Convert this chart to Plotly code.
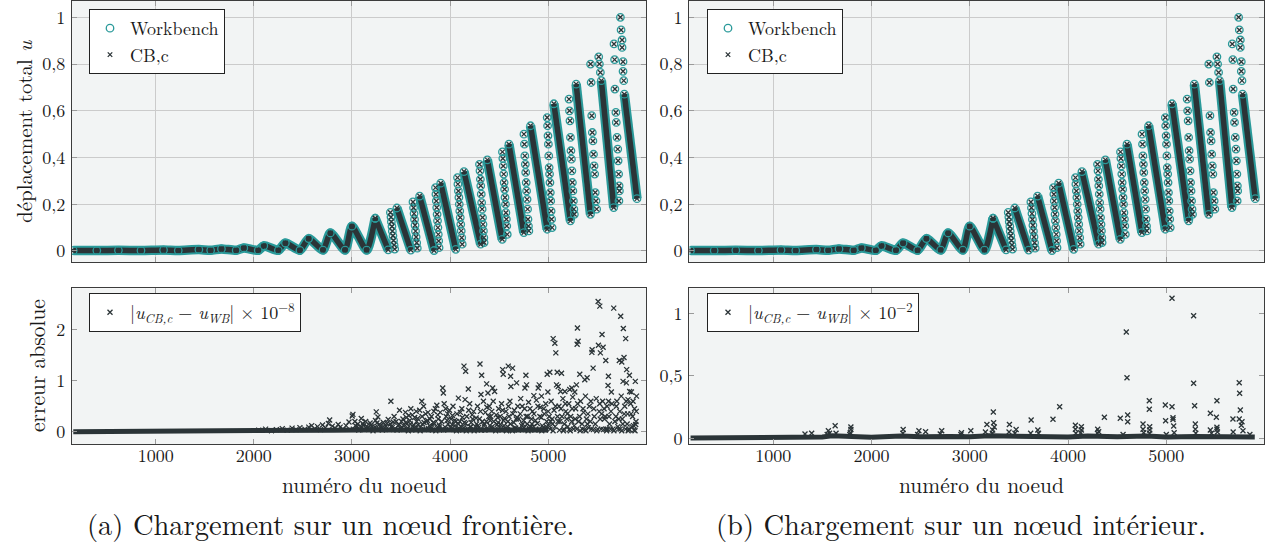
import plotly.graph_objects as go

# ------------------------------------------------------------------
# Axis ticks / labels
# ------------------------------------------------------------------
x_tick_vals = [1000, 2000, 3000, 4000, 5000]
x_tick_text = ["1000", "2000", "3000", "4000", "5000"]
u_tick_vals = [0, 0.2, 0.4, 0.6, 0.8, 1]
u_tick_text = ["0", "0,2", "0,4", "0,6", "0,8", "1"]
err_a_tick_vals = [0, 1, 2]
err_a_tick_text = ["0", "1", "2"]
err_b_tick_vals = [0, 0.5, 1]
err_b_tick_text = ["0", "0,5", "1"]

# ------------------------------------------------------------------
# Top panels: déplacement total u (node, value)
# ------------------------------------------------------------------
band_points = [(160, 0.002), (400, 0.002), (620, 0.003), (850, 0.002), (1080, 0.004),
               (1230, 0.002), (1440, 0.006), (1560, 0.003), (1670, 0.009), (1820, 0.003),
               (1898, 0.013), (2045, 0.003), (2102, 0.022), (2250, 0.003), (2322, 0.034),
               (2470, 0.003), (2559, 0.053), (2705, 0.004), (2780, 0.077), (2930, 0.004),
               (3000, 0.106), (3150, 0.004), (3237, 0.14)]
stroke_start_points = [(3237, 0.14), (3458, 0.184), (3690, 0.235), (3905, 0.29), (4142, 0.34),
                       (4380, 0.39), (4600, 0.457), (4820, 0.536), (5058, 0.63), (5285, 0.714),
                       (5542, 0.729), (5776, 0.671)]
stroke_end_points = [(3370, 0.005), (3600, 0.004), (3837, 0.002), (4058, 0.007), (4312, 0.029),
                     (4532, 0.05), (4752, 0.079), (4990, 0.093), (5227, 0.129), (5431, 0.157),
                     (5668, 0.186), (5905, 0.224)]
sparse_points = [
    (3392, 0.165), (3398, 0.145), (3402, 0.125), (3408, 0.105), (3412, 0.085), (3418, 0.065),
    (3424, 0.045), (3430, 0.025), (3436, 0.008),
    (3622, 0.21), (3628, 0.185), (3633, 0.16), (3638, 0.135), (3643, 0.11), (3648, 0.085),
    (3654, 0.06), (3660, 0.035), (3666, 0.012),
    (3852, 0.271), (3856, 0.243), (3860, 0.214), (3864, 0.186), (3868, 0.157), (3872, 0.129),
    (3876, 0.1), (3880, 0.071), (3884, 0.043), (3888, 0.014),
    (4076, 0.314), (4080, 0.286), (4085, 0.257), (4090, 0.229), (4094, 0.2), (4099, 0.171),
    (4104, 0.143), (4109, 0.114), (4114, 0.086), (4119, 0.057), (4124, 0.029),
    (4300, 0.371), (4305, 0.343), (4309, 0.307), (4313, 0.279), (4318, 0.243), (4322, 0.207),
    (4327, 0.179), (4331, 0.143), (4336, 0.114), (4340, 0.086), (4344, 0.057), (4347, 0.036),
    (4534, 0.424), (4538, 0.396), (4542, 0.364), (4547, 0.329), (4551, 0.293), (4556, 0.264),
    (4560, 0.229), (4565, 0.2), (4569, 0.164), (4574, 0.136), (4578, 0.107), (4583, 0.071),
    (4753, 0.5), (4758, 0.457), (4762, 0.407), (4767, 0.371), (4771, 0.336), (4776, 0.293),
    (4780, 0.257), (4785, 0.221), (4790, 0.179), (4794, 0.136), (4799, 0.107), (4803, 0.086),
    (4990, 0.571), (4994, 0.536), (4998, 0.493), (5002, 0.457), (5006, 0.407), (5010, 0.357),
    (5014, 0.329), (5018, 0.293), (5022, 0.25), (5026, 0.214), (5030, 0.171), (5035, 0.136),
    (5040, 0.1),
    (5212, 0.65), (5217, 0.6), (5222, 0.557), (5227, 0.486), (5232, 0.429), (5237, 0.393),
    (5242, 0.343), (5247, 0.293), (5252, 0.257), (5257, 0.214), (5262, 0.179), (5267, 0.157),
    (5432, 0.8), (5438, 0.721), (5444, 0.579), (5450, 0.507), (5456, 0.471), (5462, 0.414),
    (5468, 0.364), (5474, 0.329), (5480, 0.25), (5487, 0.214), (5494, 0.179),
    (5515, 0.831), (5522, 0.8), (5532, 0.764),
    (5671, 0.886), (5677, 0.819), (5680, 0.693), (5690, 0.593), (5694, 0.55), (5702, 0.486),
    (5709, 0.436), (5713, 0.386), (5718, 0.329), (5723, 0.279), (5726, 0.257), (5721, 0.214),
    (5736, 1.0), (5743, 0.946), (5753, 0.903), (5753, 0.871), (5763, 0.81), (5763, 0.769),
    (5770, 0.729)]

# ------------------------------------------------------------------
# Bottom-left: erreur absolue (x 1e-8), node / value
# ------------------------------------------------------------------
err_a_base = [(160, 0.0), (1000, 0.002), (1900, 0.006), (2200, 0.012), (2500, 0.02),
              (2800, 0.03), (3100, 0.035), (3500, 0.04), (4000, 0.04), (4500, 0.04), (5000, 0.035)]
err_a_points = [
    (2050, 0.03), (2120, 0.05), (2180, 0.02), (2230, 0.04), (2290, 0.06), (2340, 0.03),
    (2390, 0.07), (2430, 0.04), (2470, 0.08), (2520, 0.05), (2560, 0.09), (2590, 0.12),
    (2620, 0.06), (2650, 0.1), (2680, 0.04), (2700, 0.13), (2730, 0.08), (2760, 0.16),
    (2773, 0.23), (2800, 0.11), (2830, 0.07), (2860, 0.14), (2880, 0.09), (2910, 0.05),
    (2940, 0.12), (2970, 0.19), (3003, 0.31), (3010, 0.34), (3030, 0.2), (3050, 0.1),
    (3095, 0.26), (3248, 0.39), (3265, 0.29), (3397, 0.6), (3485, 0.42),
    (3060, 0.15), (3080, 0.06), (3120, 0.12), (3140, 0.2), (3160, 0.08), (3185, 0.17),
    (3205, 0.1), (3225, 0.05), (3240, 0.22), (3280, 0.14), (3300, 0.07), (3320, 0.18),
    (3345, 0.11), (3370, 0.24), (3390, 0.15), (3410, 0.08), (3430, 0.3), (3450, 0.2),
    (3470, 0.12), (3500, 0.06),
    (3520, 0.25), (3545, 0.38), (3560, 0.15), (3580, 0.32), (3600, 0.45), (3620, 0.1),
    (3640, 0.28), (3660, 0.2), (3690, 0.42), (3712, 0.6), (3730, 0.5), (3750, 0.35),
    (3770, 0.22), (3790, 0.12), (3810, 0.3), (3830, 0.18), (3850, 0.45), (3865, 0.52),
    (3880, 0.25), (3900, 0.38), (3925, 0.86), (3932, 0.76), (3940, 0.55), (3960, 0.3),
    (3980, 0.15), (3995, 0.42),
    (4085, 0.66), (4142, 1.29), (4153, 0.63), (4159, 1.19), (4186, 0.84), (4305, 1.33),
    (4322, 1.11), (4315, 0.73), (4373, 0.94), (4386, 0.76), (4434, 0.86), (4454, 0.79),
    (4010, 0.25), (4030, 0.5), (4050, 0.12), (4070, 0.35), (4100, 0.2), (4120, 0.45),
    (4140, 0.08), (4170, 0.3), (4200, 0.55), (4215, 0.18), (4240, 0.4), (4260, 0.1),
    (4280, 0.5), (4300, 0.25), (4340, 0.6), (4350, 0.15), (4360, 0.38), (4400, 0.5),
    (4410, 0.22), (4420, 0.08), (4440, 0.6), (4470, 0.33), (4480, 0.14), (4495, 0.45),
    (4536, 1.22), (4542, 1.13), (4593, 1.29), (4617, 1.09), (4637, 1.25), (4620, 0.89),
    (4678, 0.96), (4773, 1.11), (4763, 0.86), (4780, 0.92), (4854, 0.71), (4898, 0.86),
    (4909, 0.92), (4932, 0.7), (4990, 1.13), (4997, 0.78),
    (4510, 0.3), (4525, 0.55), (4550, 0.12), (4570, 0.4), (4590, 0.2), (4610, 0.6),
    (4640, 0.35), (4660, 0.08), (4690, 0.5), (4700, 0.25), (4720, 0.65), (4740, 0.15),
    (4760, 0.45), (4790, 0.3), (4800, 0.58), (4820, 0.1), (4840, 0.4), (4870, 0.22),
    (4880, 0.62), (4920, 0.48), (4940, 0.12), (4960, 0.35), (4975, 0.55),
    (5017, 1.17), (5051, 1.83), (5068, 1.74), (5078, 1.55), (5085, 0.92), (5092, 1.17),
    (5102, 0.89), (5126, 0.79), (5136, 1.15), (5170, 0.79), (5220, 0.83), (5241, 0.86),
    (5271, 0.78), (5288, 0.92), (5295, 1.72), (5298, 2.04), (5305, 1.78), (5322, 1.13),
    (5373, 1.02), (5397, 1.06), (5445, 1.56), (5448, 1.61), (5458, 1.25), (5509, 2.56),
    (5010, 0.3), (5030, 0.6), (5045, 0.15), (5060, 0.42), (5110, 0.5), (5120, 0.2),
    (5150, 0.65), (5160, 0.05), (5180, 0.4), (5200, 0.1), (5210, 0.55), (5230, 0.3),
    (5250, 0.68), (5260, 0.05), (5280, 0.45), (5310, 0.2), (5330, 0.6), (5350, 0.05),
    (5360, 0.38), (5380, 0.7), (5400, 0.15), (5420, 0.5), (5440, 0.05), (5470, 0.3),
    (5490, 0.65),
    (5512, 1.7), (5526, 2.47), (5532, 1.55), (5549, 1.91), (5560, 1.66), (5587, 1.4),
    (5610, 0.91), (5614, 1.09), (5644, 0.78), (5668, 2.43), (5725, 1.4), (5739, 2.27),
    (5750, 1.37), (5763, 0.99), (5766, 2.03), (5773, 1.46), (5790, 1.83), (5797, 0.96),
    (5800, 1.22), (5814, 0.63), (5828, 1.11), (5831, 0.79), (5848, 0.78), (5888, 0.99),
    (5520, 0.4), (5540, 0.05), (5555, 0.6), (5575, 0.25), (5590, 0.05), (5600, 0.5),
    (5620, 0.3), (5635, 0.05), (5650, 0.55), (5680, 0.2), (5700, 0.6), (5715, 0.05),
    (5730, 0.4), (5745, 0.7), (5760, 0.15), (5780, 0.5), (5810, 0.35), (5820, 0.05),
    (5840, 0.55), (5860, 0.3), (5870, 0.12), (5880, 0.45), (5895, 0.2), (5900, 0.7)]
err_a_low_points = [
    (3015, 0.05), (3035, 0.12), (3070, 0.03), (3090, 0.09), (3110, 0.16), (3130, 0.04),
    (3150, 0.11), (3175, 0.06), (3195, 0.13), (3215, 0.02), (3235, 0.09), (3255, 0.17),
    (3275, 0.05), (3295, 0.12), (3310, 0.03), (3335, 0.08), (3355, 0.16), (3380, 0.04),
    (3400, 0.1), (3420, 0.19), (3440, 0.06), (3460, 0.03), (3480, 0.14), (3510, 0.09),
    (3530, 0.04), (3550, 0.18), (3570, 0.07), (3590, 0.22), (3610, 0.03), (3630, 0.13),
    (3650, 0.06), (3670, 0.26), (3700, 0.09), (3720, 0.15), (3740, 0.04), (3760, 0.2),
    (3780, 0.06), (3800, 0.1), (3820, 0.03), (3840, 0.16), (3870, 0.07), (3890, 0.13),
    (3910, 0.04), (3950, 0.09), (3970, 0.22), (3990, 0.05), (4020, 0.14), (4040, 0.04),
    (4060, 0.2), (4090, 0.07), (4110, 0.1), (4130, 0.03), (4160, 0.16), (4180, 0.06),
    (4210, 0.09), (4230, 0.25), (4250, 0.04), (4270, 0.15), (4290, 0.08), (4320, 0.03),
    (4345, 0.12), (4370, 0.2), (4390, 0.05), (4415, 0.3), (4430, 0.1), (4460, 0.05),
    (4490, 0.18), (4505, 0.08), (4530, 0.03), (4545, 0.22), (4565, 0.06), (4585, 0.1),
    (4600, 0.3), (4625, 0.04), (4650, 0.18), (4670, 0.07), (4685, 0.28), (4710, 0.05),
    (4730, 0.12), (4750, 0.22), (4770, 0.04), (4785, 0.15), (4810, 0.06), (4830, 0.25),
    (4850, 0.1), (4865, 0.03), (4890, 0.16), (4910, 0.05), (4930, 0.28), (4950, 0.08),
    (4970, 0.03), (4985, 0.2), (5005, 0.12), (5020, 0.05), (5040, 0.25), (5070, 0.1),
    (5100, 0.2), (5115, 0.03), (5140, 0.3), (5165, 0.15), (5190, 0.25), (5215, 0.04),
    (5240, 0.2), (5265, 0.12), (5290, 0.05), (5320, 0.3), (5345, 0.15), (5370, 0.04),
    (5390, 0.25), (5410, 0.08), (5430, 0.2), (5460, 0.04), (5480, 0.15), (5505, 0.05),
    (5530, 0.25), (5565, 0.04), (5580, 0.3), (5605, 0.05), (5625, 0.15), (5660, 0.05),
    (5690, 0.3), (5710, 0.1), (5735, 0.05), (5755, 0.25), (5790, 0.05), (5805, 0.15),
    (5830, 0.04), (5855, 0.1), (5875, 0.03), (5892, 0.14),
    (3505, 0.2), (3525, 0.12), (3555, 0.28), (3575, 0.02), (3595, 0.15), (3615, 0.33),
    (3635, 0.08), (3655, 0.4), (3675, 0.13), (3695, 0.02), (3715, 0.3), (3735, 0.18),
    (3755, 0.05), (3775, 0.38), (3795, 0.25), (3815, 0.08), (3835, 0.4), (3855, 0.02),
    (3875, 0.33), (3895, 0.1), (3915, 0.2), (3935, 0.03), (3955, 0.45), (3975, 0.35),
    (4005, 0.08), (4025, 0.32), (4045, 0.22), (4065, 0.02), (4085, 0.15), (4105, 0.38),
    (4125, 0.28), (4145, 0.18), (4165, 0.02), (4190, 0.42), (4205, 0.1), (4225, 0.33),
    (4245, 0.02), (4265, 0.27), (4285, 0.12), (4310, 0.4), (4330, 0.2), (4355, 0.03),
    (4375, 0.48), (4395, 0.3), (4405, 0.12), (4425, 0.4), (4445, 0.2), (4465, 0.02),
    (4485, 0.28), (4515, 0.14), (4535, 0.42), (4555, 0.26), (4575, 0.02), (4595, 0.5),
    (4615, 0.15), (4635, 0.02), (4655, 0.42), (4675, 0.25), (4695, 0.03), (4715, 0.35),
    (4735, 0.5), (4755, 0.08), (4775, 0.3), (4795, 0.02), (4815, 0.45), (4835, 0.15),
    (4855, 0.35), (4875, 0.05), (4895, 0.5), (4915, 0.3), (4935, 0.02), (4955, 0.45),
    (4980, 0.1), (5000, 0.4), (5025, 0.2), (5050, 0.02), (5075, 0.5), (5095, 0.3),
    (5130, 0.45), (5155, 0.02), (5175, 0.55), (5195, 0.35), (5225, 0.02), (5245, 0.45),
    (5275, 0.25), (5300, 0.55), (5325, 0.02), (5355, 0.45), (5385, 0.02), (5405, 0.35),
    (5435, 0.6), (5465, 0.45), (5495, 0.02), (5525, 0.55), (5545, 0.35), (5570, 0.45),
    (5595, 0.02), (5615, 0.6), (5640, 0.4), (5670, 0.02), (5695, 0.5), (5720, 0.25),
    (5750, 0.02), (5775, 0.35), (5795, 0.6), (5815, 0.02), (5845, 0.35), (5865, 0.6),
    (5885, 0.02), (5898, 0.4)]

# ------------------------------------------------------------------
# Bottom-right: erreur absolue (x 1e-2), node / value
# ------------------------------------------------------------------
err_b_base = [(160, 0.002), (1200, 0.003), (1350, 0.012), (1500, 0.01), (1600, 0.02),
              (1800, 0.015), (2000, 0.008), (2300, 0.018), (2500, 0.012), (2800, 0.015),
              (3000, 0.012), (3200, 0.02), (3500, 0.015), (3700, 0.02), (4000, 0.01),
              (4200, 0.018), (4500, 0.012), (4800, 0.018), (5000, 0.01), (5300, 0.015),
              (5500, 0.012), (5700, 0.018), (5900, 0.01)]
err_b_points = [
    (1324, 0.035), (1392, 0.04), (1562, 0.06), (1573, 0.04), (1631, 0.10), (1785, 0.045),
    (1791, 0.07), (1791, 0.09), (2323, 0.07), (2483, 0.06), (2551, 0.053), (2715, 0.06),
    (2916, 0.045), (3011, 0.06), (3175, 0.11), (3233, 0.067), (3240, 0.21), (3243, 0.125),
    (3250, 0.09), (3404, 0.11), (3472, 0.07), (3625, 0.147), (3693, 0.067), (3847, 0.152),
    (3915, 0.253), (4075, 0.104), (4075, 0.072), (4136, 0.093), (4136, 0.067), (4302, 0.072),
    (4312, 0.053), (4370, 0.168), (4532, 0.16), (4593, 0.85), (4600, 0.485), (4607, 0.187),
    (4607, 0.133), (4763, 0.115), (4763, 0.072), (4827, 0.30), (4827, 0.232), (4831, 0.093),
    (4831, 0.067), (4990, 0.267), (4993, 0.141), (5058, 1.12), (5058, 0.253), (5068, 0.165),
    (5068, 0.15), (5075, 0.099), (5278, 0.98), (5278, 0.44), (5288, 0.26), (5295, 0.115),
    (5295, 0.072), (5448, 0.2), (5448, 0.067), (5509, 0.168), (5515, 0.30), (5515, 0.088),
    (5515, 0.072), (5678, 0.155), (5742, 0.445), (5746, 0.36), (5753, 0.227), (5742, 0.155),
    (5770, 0.133), (5763, 0.104),
    (1550, 0.03), (1640, 0.04), (1780, 0.03), (2320, 0.04), (2470, 0.03), (2700, 0.035),
    (2910, 0.03), (3160, 0.05), (3230, 0.04), (3400, 0.05), (3460, 0.04), (3620, 0.04),
    (3700, 0.04), (4080, 0.04), (4130, 0.045), (4300, 0.04), (4560, 0.03), (4770, 0.045),
    (4830, 0.04), (5000, 0.03), (5080, 0.045), (5300, 0.04), (5460, 0.04), (5520, 0.05),
    (5680, 0.05), (5780, 0.06), (5850, 0.03)]

# ------------------------------------------------------------------
# Styling
# ------------------------------------------------------------------
FONT = "Latin Modern Roman"
TEAL = "#2a9a9a"
DARK = "#2b3437"
TXT = "#1a1a1a"
BG = "#f2f4f4"
GRID = "#cbcbcb"

W, H = 1271, 550


def xs(pts):
    return [p[0] for p in pts]


def ys(pts):
    return [p[1] for p in pts]


def segments(starts, ends):
    sx, sy = [], []
    for (a, b), (c, d) in zip(starts, ends):
        sx += [a, c, None]
        sy += [b, d, None]
    return sx, sy


fig = go.Figure()

seg_x, seg_y = segments(stroke_start_points, stroke_end_points)
all_u = band_points + stroke_start_points + stroke_end_points + sparse_points

for xa, ya, leg in (("x", "y", "legend"), ("x2", "y2", "legend2")):
    for col, wid in ((TEAL, 9.5), (DARK, 5.5)):
        fig.add_trace(go.Scatter(x=xs(band_points), y=ys(band_points), mode="lines",
                                 line=dict(color=col, width=wid, shape="spline", smoothing=0.6),
                                 xaxis=xa, yaxis=ya, showlegend=False, hoverinfo="skip"))
        fig.add_trace(go.Scatter(x=seg_x, y=seg_y, mode="lines",
                                 line=dict(color=col, width=wid), xaxis=xa, yaxis=ya,
                                 showlegend=False, hoverinfo="skip"))
    fig.add_trace(go.Scatter(x=xs(all_u), y=ys(all_u), mode="markers", name="Workbench",
                             marker=dict(symbol="circle-open", size=7.5, color=TEAL,
                                         line=dict(width=1.3)),
                             xaxis=xa, yaxis=ya, legend=leg))
    fig.add_trace(go.Scatter(x=xs(all_u), y=ys(all_u), mode="markers", name="CB,c",
                             marker=dict(symbol="x-thin", size=4.5, color=DARK,
                                         line=dict(color=DARK, width=1.3)),
                             xaxis=xa, yaxis=ya, legend=leg))

err_a_name = "|<i>u</i><sub><i>CB,c</i></sub> − <i>u</i><sub><i>WB</i></sub>| × 10<sup>−8</sup>"
err_b_name = "|<i>u</i><sub><i>CB,c</i></sub> − <i>u</i><sub><i>WB</i></sub>| × 10<sup>−2</sup>"

err_a_all = err_a_points + err_a_low_points

for base, pts, xa, ya, leg, name in ((err_a_base, err_a_all, "x3", "y3", "legend3", err_a_name),
                                     (err_b_base, err_b_points, "x4", "y4", "legend4", err_b_name)):
    fig.add_trace(go.Scatter(x=xs(base), y=ys(base), mode="lines",
                             line=dict(color=DARK, width=5), xaxis=xa, yaxis=ya,
                             showlegend=False, hoverinfo="skip"))
    fig.add_trace(go.Scatter(x=xs(pts), y=ys(pts), mode="markers", name=name,
                             marker=dict(symbol="x-thin", size=5, color=DARK,
                                         line=dict(color=DARK, width=1.3)),
                             xaxis=xa, yaxis=ya, legend=leg))

# ------------------------------------------------------------------
# Axes
# ------------------------------------------------------------------
XL = [72 / W, 646 / W]
XR = [689.3 / W, 1264.3 / W]
YT = [1 - 262.3 / H, 1 - 1 / H]
YB = [1 - 444.3 / H, 1 - 288.3 / H]
XRANGE = [147, 5997]

common = dict(showline=True, linecolor="#3c3c3c", linewidth=1.3, mirror="allticks",
              ticks="inside", ticklen=5, tickwidth=1.3, tickcolor="#9a9a9a",
              tickfont=dict(family=FONT, size=18, color=TXT), zeroline=False,
              automargin=False)

xcommon = dict(common, range=XRANGE, tickvals=x_tick_vals, ticktext=x_tick_text)

layout_axes = dict(
    xaxis=dict(xcommon, domain=XL, anchor="y", showticklabels=False, showgrid=True,
               gridcolor=GRID, gridwidth=1),
    yaxis=dict(common, domain=YT, anchor="x", range=[-0.0484, 1.0698], tickvals=u_tick_vals,
               ticktext=u_tick_text, showgrid=True, gridcolor=GRID, gridwidth=1,
               ticklabelstandoff=2),
    xaxis2=dict(xcommon, domain=XR, anchor="y2", showticklabels=False, showgrid=True,
                gridcolor=GRID, gridwidth=1),
    yaxis2=dict(common, domain=YT, anchor="x2", range=[-0.0484, 1.0698], tickvals=u_tick_vals,
                ticktext=u_tick_text, showgrid=True, gridcolor=GRID, gridwidth=1,
                ticklabelstandoff=2),
    xaxis3=dict(xcommon, domain=XL, anchor="y3", showgrid=False, ticklabelstandoff=-5),
    yaxis3=dict(common, domain=YB, anchor="x3", range=[-0.248, 2.82], tickvals=err_a_tick_vals,
                ticktext=err_a_tick_text, showgrid=False, ticklabelstandoff=2),
    xaxis4=dict(xcommon, domain=XR, anchor="y4", showgrid=False, ticklabelstandoff=-5),
    yaxis4=dict(common, domain=YB, anchor="x4", range=[-0.048, 1.2], tickvals=err_b_tick_vals,
                ticktext=err_b_tick_text, showgrid=False, ticklabelstandoff=2),
)

legend_common = dict(bgcolor="white", bordercolor="#222", borderwidth=1,
                     font=dict(family=FONT, size=18, color=TXT),
                     xanchor="left", yanchor="top", tracegroupgap=0, itemwidth=30)

fig.update_layout(
    width=W, height=H,
    margin=dict(l=0, r=0, t=0, b=0, autoexpand=False),
    paper_bgcolor="white", plot_bgcolor=BG,
    font=dict(family=FONT, color=TXT),
    legend=dict(legend_common, x=89 / W, y=1 - 9 / H),
    legend2=dict(legend_common, x=707 / W, y=1 - 9 / H),
    legend3=dict(legend_common, x=89 / W, y=1 - 293 / H),
    legend4=dict(legend_common, x=707 / W, y=1 - 293 / H),
    **layout_axes,
)

# ------------------------------------------------------------------
# Titles and captions
# ------------------------------------------------------------------
ann = [
    dict(text="déplacement total <i>u</i>", x=23 / W, y=1 - 132 / H, textangle=-90, size=21),
    dict(text="erreur absolue", x=36 / W, y=1 - 366 / H, textangle=-90, size=21.5),
    dict(text="numéro du noeud", x=364 / W, y=1 - 484 / H, textangle=0, size=21.5),
    dict(text="numéro du noeud", x=981 / W, y=1 - 484 / H, textangle=0, size=21.5),
    dict(text="(a) Chargement sur un nœud frontière.", x=330 / W, y=1 - 523 / H, textangle=0, size=28.5),
    dict(text="(b) Chargement sur un nœud intérieur.", x=961 / W, y=1 - 523 / H, textangle=0, size=28.5),
]
for a in ann:
    fig.add_annotation(text=a["text"], x=a["x"], y=a["y"], xref="paper", yref="paper",
                       xanchor="center", yanchor="middle", textangle=a["textangle"],
                       showarrow=False, font=dict(family=FONT, size=a["size"], color=TXT))

# the page's default 8 px body margin would shift the figure; remove it
fig.write_html("out.html", config={"displayModeBar": False},
               post_script="document.body.style.margin = '0px';")
